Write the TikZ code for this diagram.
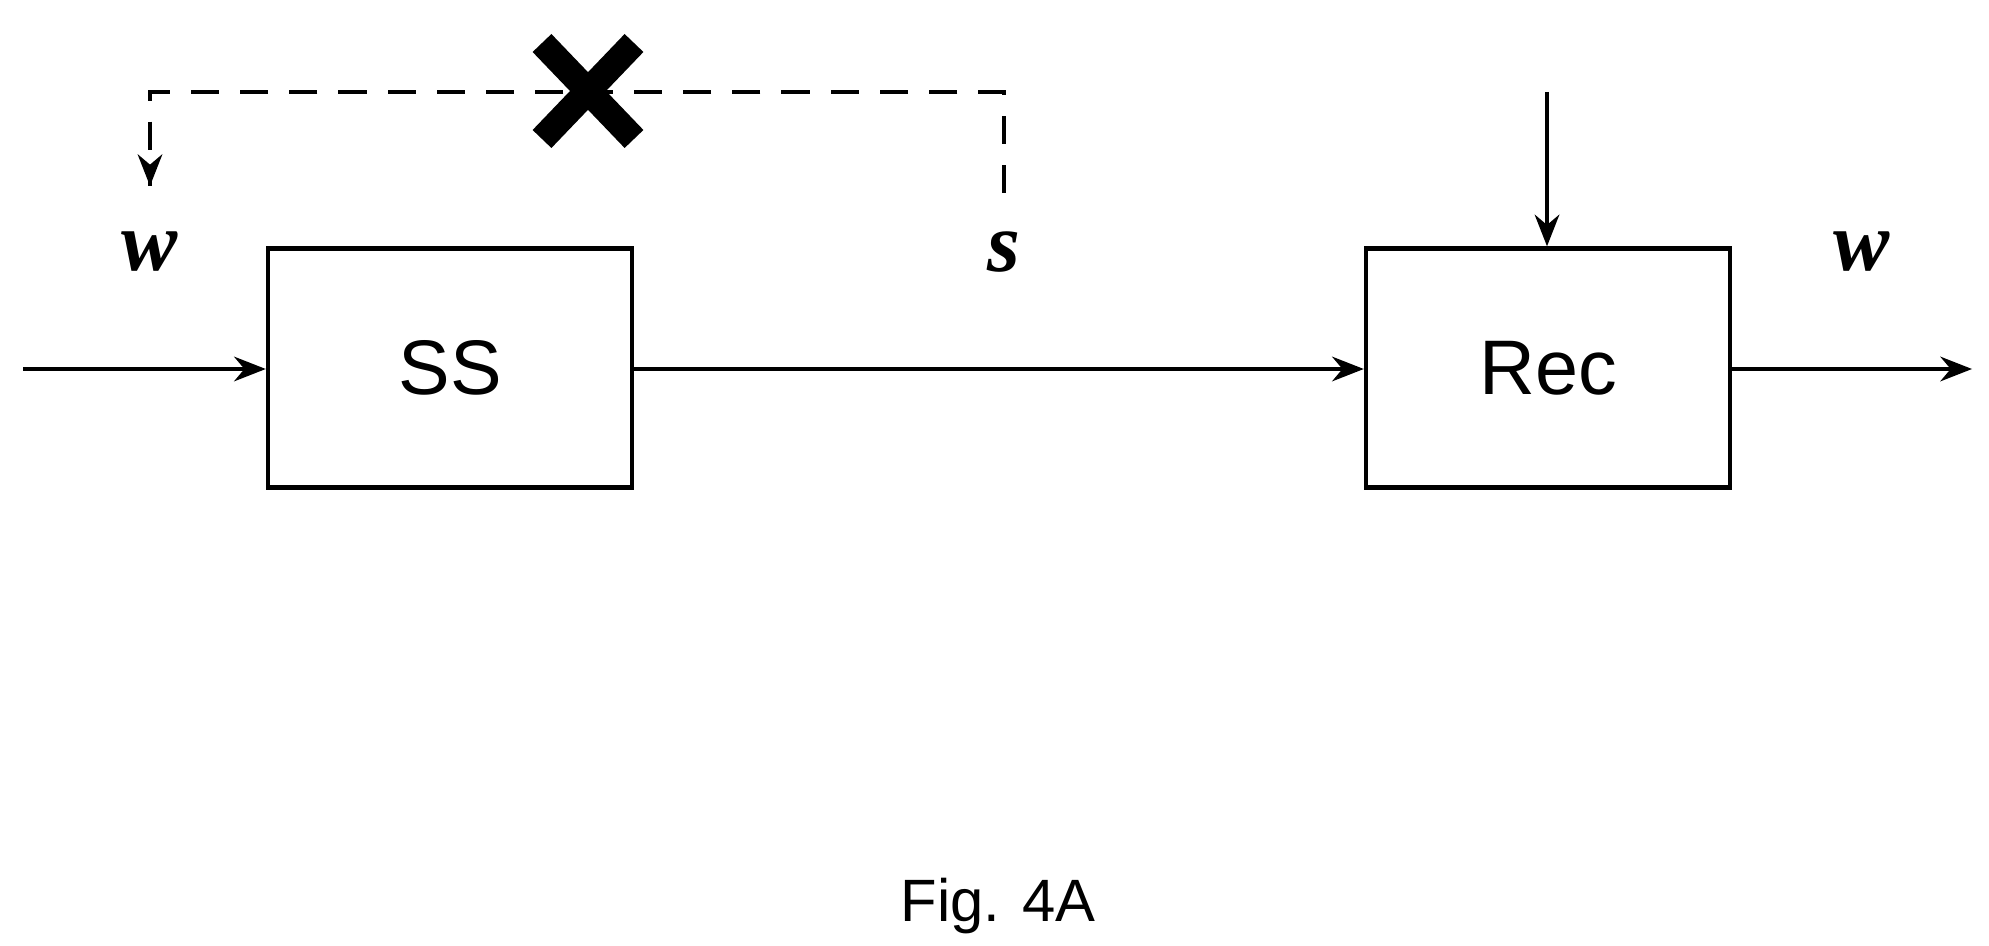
\documentclass[tikz,border=0pt]{standalone}
\usepackage{fontspec}
\setmainfont{Liberation Serif}
\setsansfont{Liberation Sans}
\usetikzlibrary{arrows.meta}
\begin{document}
\begin{tikzpicture}[x=0.01cm,y=-0.01cm,
  blk/.style={draw,line width=1.2pt,minimum width=3.64cm,minimum height=2.39cm,font=\sffamily\fontsize{22}{24}\selectfont},
  con/.style={line width=1.1pt,-{Stealth[length=9pt,width=7pt]}},
  dsh/.style={line width=1.1pt,dash pattern=on 8pt off 6pt},
  lab/.style={font=\bfseries\itshape\fontsize{24}{26}\selectfont}]
\useasboundingbox (0,0) rectangle (1989,946);
\node[blk] (ss) at (450,368) {SS};
\node[blk] (rec) at (1548,368) {Rec};
\coordinate (in) at (23,369);
\coordinate (out) at (1972,369);
\coordinate (top) at (1547,92);
\coordinate (d1) at (1004,193);
\coordinate (d2) at (1004,92);
\coordinate (d3) at (150,92);
\coordinate (d4) at (150,186);
\draw[con] (in) -- (ss.west|-in);
\draw[con] (ss.east|-in) -- (rec.west|-in);
\draw[con] (rec.east|-in) -- (out);
\draw[con] (top) -- (rec.north-|top);
\draw[dsh] (d1) -- (d2) -- (d3) -- (d4);
\draw[line width=1.1pt,-{Stealth[length=9pt,width=7pt]}] (150,170) -- (d4);
\node[lab] (w1) at (150,252) {w};
\node[lab] (s1) at (1004,252) {s};
\node[lab] (w2) at (1862,252) {w};
\node (xm) at (588,91) {};
\draw[line width=0.26cm] (542,43) -- (634,139) (542,139) -- (634,43);
\node[font=\sffamily\fontsize{17}{19}\selectfont] (fig) at (998,906) {Fig. 4A};
\end{tikzpicture}
\end{document}
